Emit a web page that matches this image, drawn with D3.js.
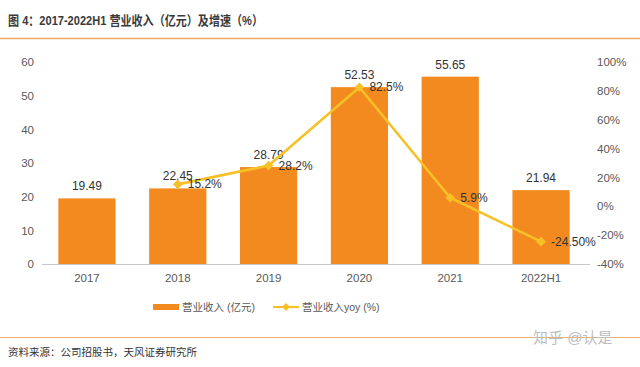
<!DOCTYPE html>
<html>
<head>
<meta charset="utf-8">
<script src="https://cdn.jsdelivr.net/npm/d3@7"></script>
<style>
body { margin: 0; background: #fff; }
svg text { font-family: "Liberation Sans", Arial, "Noto Sans CJK SC", sans-serif; }
.cjk { font-family: "Liberation Sans", "Noto Sans CJK SC", sans-serif; }
</style>
</head>
<body>
<script>
const years = ["2017", "2018", "2019", "2020", "2021", "2022H1"];
const revenue = [19.49, 22.45, 28.79, 52.53, 55.65, 21.94];
const yoy = [null, 15.2, 28.2, 82.5, 5.9, -24.5];
const yoyLabels = ["", "15.2%", "28.2%", "82.5%", "5.9%", "-24.50%"];
const leftTicks = [0, 10, 20, 30, 40, 50, 60];
const rightTicks = [-40, -20, 0, 20, 40, 60, 80, 100];

const width = 640, height = 367;
const barColor = "#f28a20", lineColor = "#f6c127";

const svg = d3.select("body").append("svg")
    .attr("width", width)
    .attr("height", height);

// title + rules
svg.append("text")
    .attr("class", "cjk")
    .attr("x", 8).attr("y", 25)
    .attr("font-size", 13)
    .attr("font-weight", "bold")
    .attr("fill", "#3a3a3a")
    .attr("textLength", 255)
    .attr("lengthAdjust", "spacingAndGlyphs")
    .text("图 4：2017-2022H1 营业收入（亿元）及增速（%）");

svg.append("line").attr("x1", 0).attr("x2", width).attr("y1", 38.5).attr("y2", 38.5)
    .attr("stroke", "#e9a866").attr("stroke-width", 1.5);
svg.append("line").attr("x1", 0).attr("x2", width).attr("y1", 337.5).attr("y2", 337.5)
    .attr("stroke", "#e9b070").attr("stroke-width", 1.2);

const x = d3.scaleBand().domain(years).range([42, 586]).paddingInner(0.37).paddingOuter(0.18);
const yL = d3.scaleLinear().domain([0, 60]).range([264, 62]);
const yR = d3.scaleLinear().domain([-40, 100]).range([264, 62]);

// axes
const leftAxis = svg.append("g").attr("transform", "translate(38,0)")
    .call(d3.axisLeft(yL).tickValues(leftTicks).tickSize(0).tickPadding(4));
leftAxis.select(".domain").remove();

const rightAxis = svg.append("g").attr("transform", "translate(595,0)")
    .call(d3.axisRight(yR).tickValues(rightTicks).tickSize(0).tickPadding(2).tickFormat(d => d + "%"));
rightAxis.select(".domain").remove();

[leftAxis, rightAxis].forEach(g => g.selectAll("text")
    .attr("font-size", 11.5).attr("fill", "#595959")
    .attr("font-family", "Liberation Sans, Arial, sans-serif"));

const bottomAxis = svg.append("g").attr("transform", "translate(0,264)")
    .call(d3.axisBottom(x).tickSize(0).tickPadding(10));
bottomAxis.select(".domain").attr("stroke", "#c8c8c8").attr("d", "M42,0.5H590");
bottomAxis.selectAll("text").attr("font-size", 11.5).attr("fill", "#595959")
    .attr("font-family", "Liberation Sans, Arial, sans-serif");

// bars
svg.append("g").selectAll("rect")
    .data(revenue)
    .join("rect")
    .attr("x", (d, i) => x(years[i]))
    .attr("y", d => yL(d))
    .attr("width", x.bandwidth())
    .attr("height", d => yL(0) - yL(d))
    .attr("fill", barColor);

svg.append("g").selectAll("text")
    .data(revenue)
    .join("text")
    .attr("x", (d, i) => x(years[i]) + x.bandwidth() / 2)
    .attr("y", d => yL(d) - 8)
    .attr("text-anchor", "middle")
    .attr("font-size", 12)
    .attr("fill", "#333")
    .text(d => d.toFixed(2));

// growth line
const pts = yoy.map((v, i) => ({ v, i })).filter(d => d.v !== null);
const line = d3.line()
    .x(d => x(years[d.i]) + x.bandwidth() / 2)
    .y(d => yR(d.v));

svg.append("path")
    .datum(pts)
    .attr("d", line)
    .attr("fill", "none")
    .attr("stroke", lineColor)
    .attr("stroke-width", 2.6);

const diamond = d3.symbol().type(d3.symbolDiamond2).size(60);
svg.append("g").selectAll("path")
    .data(pts)
    .join("path")
    .attr("d", diamond)
    .attr("transform", d => `translate(${x(years[d.i]) + x.bandwidth() / 2},${yR(d.v)})`)
    .attr("fill", lineColor);

svg.append("g").selectAll("text")
    .data(pts)
    .join("text")
    .attr("x", d => x(years[d.i]) + x.bandwidth() / 2 + 10)
    .attr("y", d => yR(d.v) + 4)
    .attr("font-size", 12)
    .attr("fill", "#333")
    .text(d => yoyLabels[d.i]);

// legend
const lg = svg.append("g").attr("transform", "translate(0,307)");
lg.append("rect").attr("x", 153).attr("y", -3).attr("width", 26).attr("height", 6).attr("fill", barColor);
lg.append("text").attr("class", "cjk").attr("x", 182).attr("y", 4)
    .attr("font-size", 10.5).attr("fill", "#595959").text("营业收入 (亿元)");
lg.append("line").attr("x1", 273).attr("x2", 299).attr("y1", 0).attr("y2", 0)
    .attr("stroke", lineColor).attr("stroke-width", 2.2);
lg.append("path").attr("d", d3.symbol().type(d3.symbolDiamond2).size(40)).attr("transform", "translate(286,0)")
    .attr("fill", lineColor);
lg.append("text").attr("class", "cjk").attr("x", 302).attr("y", 4)
    .attr("font-size", 10.5).attr("fill", "#595959").text("营业收入yoy (%)");

// footer
svg.append("text").attr("class", "cjk").attr("x", 8).attr("y", 356)
    .attr("font-size", 10.5).attr("fill", "#333")
    .text("资料来源：公司招股书，天风证券研究所");
svg.append("text").attr("class", "cjk").attr("x", 533).attr("y", 343)
    .attr("font-size", 15).attr("fill", "#bdbdbd")
    .text("知乎 @认是");
</script>
</body>
</html>
